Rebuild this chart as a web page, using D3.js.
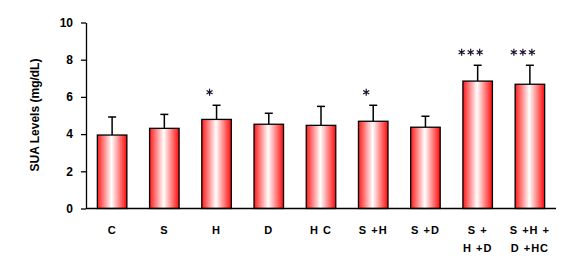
<!DOCTYPE html>
<meta charset="utf-8">
<style>
    body { margin: 0; background: #fff; }
    .chart text { font-family: "Liberation Sans", Arial, sans-serif; font-weight: bold; fill: #000; }
    .axis path, .axis line { stroke: #000; stroke-width: 1.3px; }
</style>
<svg class="chart"></svg>
<script src="https://cdn.jsdelivr.net/npm/d3@7/dist/d3.min.js"></script>
<script>

    var groups = ["C", "S", "H", "D", "HC", "S+H", "S+D", "S+H+D", "S+H+D+HC"];
    var labelLines = [["C"], ["S"], ["H"], ["D"], ["H C"], ["S +H"], ["S +D"], ["S +", "H +D"], ["S +H +", "D +HC"]];
    var means = [3.95, 4.31, 4.79, 4.53, 4.47, 4.69, 4.37, 6.85, 6.68];
    var errs = [0.97, 0.75, 0.76, 0.59, 1.02, 0.86, 0.59, 0.85, 1.02];
    var stars = [0, 0, 1, 0, 0, 1, 0, 3, 3];
    var yTicks = [0, 2, 4, 6, 8, 10];

    var width = 584,
        height = 272;

    var chart = d3.select(".chart")
        .attr("width", width)
        .attr("height", height);

    var x = d3.scaleBand()
        .domain(groups)
        .range([86, 556])
        .paddingInner(0.435)
        .paddingOuter(0.2175);

    var y = d3.scaleLinear()
        .domain([0, 10])
        .range([208.5, 22.5]);

    // bar gradient: red at the edges, white in the middle
    var grad = chart.append("defs").append("linearGradient")
        .attr("id", "barGrad")
        .attr("x1", "0%").attr("x2", "100%");
    grad.append("stop").attr("offset", "0%").attr("stop-color", "#ff1a1a");
    grad.append("stop").attr("offset", "48%").attr("stop-color", "#ffffff");
    grad.append("stop").attr("offset", "100%").attr("stop-color", "#ff0a0a");

    var data = groups.map(function(g, i) {
        return { name: g, value: means[i], err: errs[i], stars: stars[i], lines: labelLines[i] };
    });

    // error bars (drawn first so the bar covers the lower half)
    var eb = chart.append("g").selectAll("g")
        .data(data)
        .enter().append("g")
        .attr("stroke", "#000")
        .attr("stroke-width", 1.5);
    eb.append("line")
        .attr("x1", function(d) { return x(d.name) + x.bandwidth() / 2; })
        .attr("x2", function(d) { return x(d.name) + x.bandwidth() / 2; })
        .attr("y1", function(d) { return y(d.value); })
        .attr("y2", function(d) { return y(d.value + d.err); });
    eb.append("line")
        .attr("x1", function(d) { return x(d.name) + x.bandwidth() / 2 - 4; })
        .attr("x2", function(d) { return x(d.name) + x.bandwidth() / 2 + 4; })
        .attr("y1", function(d) { return y(d.value + d.err); })
        .attr("y2", function(d) { return y(d.value + d.err); });

    chart.append("g").selectAll("rect")
        .data(data)
        .enter().append("rect")
        .attr("x", function(d) { return x(d.name); })
        .attr("y", function(d) { return y(d.value); })
        .attr("width", x.bandwidth())
        .attr("height", function(d) { return y(0) - y(d.value); })
        .attr("fill", "url(#barGrad)")
        .attr("stroke", "#000")
        .attr("stroke-width", 1.3);

    // significance stars
    var star = d3.symbol().type(d3.symbolAsterisk).size(34);
    data.forEach(function(d) {
        var cx = x(d.name) + x.bandwidth() / 2 - 7;
        var cy = y(d.value + d.err) - 13;
        for (var k = 0; k < d.stars; k++) {
            chart.append("path")
                .attr("d", star)
                .attr("transform", "translate(" + (cx + (k - (d.stars - 1) / 2) * 9) + "," + cy + ")")
                .attr("fill", "none")
                .attr("stroke", "#1c1030")
                .attr("stroke-width", 1.2);
        }
    });

    // axes
    chart.append("g")
        .attr("class", "axis")
        .attr("transform", "translate(86,0)")
        .call(d3.axisLeft(y).tickValues(yTicks).tickSize(5).tickSizeOuter(0).tickPadding(8))
        .call(function(g) { g.selectAll("text").style("font-size", "12px").style("font-family", "'Liberation Sans', Arial, sans-serif").style("font-weight", "bold"); });

    chart.append("line")
        .attr("x1", 86).attr("x2", 556)
        .attr("y1", y(0)).attr("y2", y(0))
        .attr("stroke", "#000")
        .attr("stroke-width", 1.3);

    // category labels
    var lab = chart.append("g").selectAll("text")
        .data(data)
        .enter().append("text")
        .attr("text-anchor", "middle")
        .style("font-size", "11px")
        .style("letter-spacing", "1px")
        .attr("transform", function(d) { return "translate(" + (x(d.name) + x.bandwidth() / 2) + ",234)"; });
    lab.selectAll("tspan")
        .data(function(d) { return d.lines; })
        .enter().append("tspan")
        .attr("x", 0)
        .attr("y", function(d, i) { return i * 18; })
        .text(function(d) { return d; });

    chart.append("text")
        .attr("transform", "translate(39,115) rotate(-90)")
        .attr("text-anchor", "middle")
        .style("font-size", "12px")
        .text("SUA Levels (mg/dL)");

</script>
